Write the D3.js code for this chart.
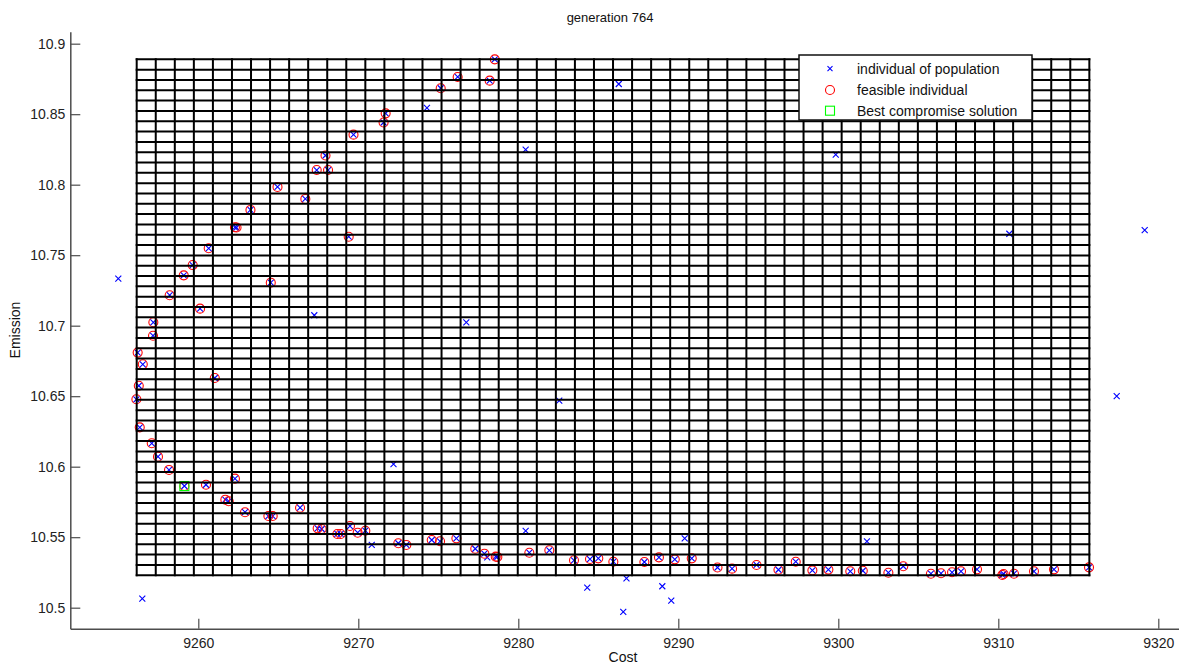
<!DOCTYPE html>
<html>
<head>
<meta charset="utf-8">
<script src="https://cdn.jsdelivr.net/npm/d3@7"></script>
<style>
  html, body { margin: 0; padding: 0; background: #fff; }
  svg { display: block; font-family: "Liberation Sans", Arial, Helvetica, sans-serif; }
</style>
</head>
<body>
<svg id="chart" width="1179" height="666"></svg>
<script>
// ---------- data ----------
const titleText = "generation 764";
const xLabelText = "Cost";
const yLabelText = "Emission";
const legendLabels = ["individual of population", "feasible individual", "Best compromise solution"];

const xTicks = [9260, 9270, 9280, 9290, 9300, 9310, 9320];
const yTicks = [10.5, 10.55, 10.6, 10.65, 10.7, 10.75, 10.8, 10.85, 10.9];
const xDomain = [9252, 9322];
const yDomain = [10.4851, 10.9085];

// hypercube grid
const gridCost = [9256.15, 9315.69];
const gridEmission = [10.523, 10.8889];
const gridCells = 50;

// feasible individuals (also members of the population)
const feasibleCost = [
  9278.53, 9276.21, 9278.21, 9275.15, 9271.71, 9271.58, 9269.70, 9267.95, 9267.40, 9268.11,
  9264.95, 9266.69, 9263.26, 9262.29, 9262.39, 9269.40, 9260.65, 9259.65, 9259.09, 9264.53,
  9258.21, 9260.11, 9257.19, 9257.17, 9256.21, 9256.53, 9261.03, 9256.28, 9256.13, 9256.34,
  9257.09, 9257.48, 9258.17, 9259.13, 9260.48, 9262.29, 9261.69, 9261.90, 9262.92, 9264.38,
  9264.65, 9266.36, 9267.46, 9267.71, 9268.69, 9268.90, 9269.48, 9269.96, 9270.44, 9272.50,
  9273.00, 9274.59, 9275.11, 9276.13, 9277.31, 9277.88, 9278.59, 9278.69, 9280.69, 9281.94,
  9283.48, 9284.48, 9285.00, 9285.94, 9287.88, 9288.79, 9289.78, 9290.84, 9292.45, 9293.36,
  9294.89, 9296.26, 9297.34, 9298.38, 9299.38, 9300.75, 9301.53, 9303.13, 9304.06, 9305.79,
  9306.42, 9307.11, 9307.67, 9308.67, 9310.25, 9310.33, 9310.98, 9312.23, 9313.48, 9315.67
];
const feasibleEmission = [
  10.8889, 10.8764, 10.8738, 10.8684, 10.8506, 10.8441, 10.8355, 10.8207, 10.8104, 10.8104,
  10.7984, 10.7899, 10.7821, 10.7698, 10.7696, 10.7631, 10.7549, 10.7430, 10.7357, 10.7305,
  10.7216, 10.7121, 10.7024, 10.6929, 10.6809, 10.6726, 10.6629, 10.6574, 10.6478, 10.6279,
  10.6166, 10.6071, 10.5977, 10.5863, 10.5872, 10.5915, 10.5766, 10.5755, 10.5677, 10.5650,
  10.5650, 10.5709, 10.5563, 10.5558, 10.5523, 10.5523, 10.5579, 10.5532, 10.5546, 10.5457,
  10.5445, 10.5480, 10.5471, 10.5492, 10.5418, 10.5383, 10.5362, 10.5360, 10.5390, 10.5407,
  10.5336, 10.5345, 10.5350, 10.5326, 10.5324, 10.5357, 10.5343, 10.5350, 10.5285, 10.5277,
  10.5303, 10.5269, 10.5326, 10.5265, 10.5270, 10.5258, 10.5262, 10.5248, 10.5294, 10.5241,
  10.5244, 10.5251, 10.5258, 10.5272, 10.5232, 10.5239, 10.5241, 10.5258, 10.5272, 10.5286
];

// other (infeasible) individuals of the population
const otherCost = [
  9255.00, 9267.25, 9274.29, 9286.28, 9280.46, 9299.84, 9310.69, 9319.15, 9317.40, 9276.75,
  9282.56, 9272.20, 9280.46, 9270.84, 9278.06, 9284.31, 9286.76, 9286.56, 9289.00, 9289.56,
  9290.40, 9301.79, 9256.50
];
const otherEmission = [
  10.7333, 10.7074, 10.8544, 10.8714, 10.8248, 10.8213, 10.7652, 10.7677, 10.6501, 10.7024,
  10.6468, 10.6018, 10.5544, 10.5445, 10.5357, 10.5143, 10.5208, 10.4970, 10.5152, 10.5050,
  10.5492, 10.5471, 10.5064
];

// best compromise solution
const bestCost = [9259.13];
const bestEmission = [10.5863];

// ---------- drawing ----------
const svg = d3.select("#chart");
const plotLeft = 70.3, plotRight = 1190.3, plotTop = 31.7, plotBottom = 628.7;

const x = d3.scaleLinear().domain(xDomain).range([plotLeft, plotRight]);
const y = d3.scaleLinear().domain(yDomain).range([plotBottom, plotTop]);

const fmt = d => String(+d.toFixed(2));

const population = feasibleCost.map((c, i) => [c, feasibleEmission[i]])
  .concat(otherCost.map((c, i) => [c, otherEmission[i]]));
const feasible = feasibleCost.map((c, i) => [c, feasibleEmission[i]]);
const best = bestCost.map((c, i) => [c, bestEmission[i]]);

const xPath = (cx, cy, s) => `M${cx - s},${cy - s}L${cx + s},${cy + s}M${cx - s},${cy + s}L${cx + s},${cy - s}`;

svg.append("g").selectAll("path").data(population).join("path")
  .attr("d", d => xPath(x(d[0]), y(d[1]), 3))
  .attr("stroke", "#0000ff").attr("stroke-width", 1.1).attr("fill", "none");

svg.append("g").selectAll("circle").data(feasible).join("circle")
  .attr("cx", d => x(d[0])).attr("cy", d => y(d[1])).attr("r", 4.5)
  .attr("stroke", "#ff0000").attr("stroke-width", 1.1).attr("fill", "none");

svg.append("g").selectAll("rect").data(best).join("rect")
  .attr("x", d => x(d[0]) - 4.5).attr("y", d => y(d[1]) - 4.5)
  .attr("width", 9).attr("height", 9)
  .attr("stroke", "#00ff00").attr("stroke-width", 1.1).attr("fill", "none");

// grid (hypercubes)
const gx = d3.range(gridCells + 1).map(i => gridCost[0] + (gridCost[1] - gridCost[0]) * i / gridCells);
const gy = d3.range(gridCells + 1).map(i => gridEmission[0] + (gridEmission[1] - gridEmission[0]) * i / gridCells);
const grid = svg.append("g").attr("stroke", "#000").attr("stroke-width", 2);
grid.selectAll("line.v").data(gx).join("line").attr("class", "v")
  .attr("x1", d => x(d)).attr("x2", d => x(d))
  .attr("y1", y(gridEmission[0]) + 1).attr("y2", y(gridEmission[1]) - 1);
grid.selectAll("line.h").data(gy).join("line").attr("class", "h")
  .attr("y1", d => y(d)).attr("y2", d => y(d))
  .attr("x1", x(gridCost[0]) - 1).attr("x2", x(gridCost[1]) + 1);

// axes
const xAxis = d3.axisBottom(x).tickValues(xTicks).tickFormat(fmt).tickSizeInner(-10).tickSizeOuter(0).tickPadding(9);
const yAxis = d3.axisLeft(y).tickValues(yTicks).tickFormat(fmt).tickSizeInner(-10).tickSizeOuter(0).tickPadding(5);

const gX = svg.append("g").attr("transform", `translate(0,${plotBottom})`).call(xAxis);
const gY = svg.append("g").attr("transform", `translate(${plotLeft},0)`).call(yAxis);
[gX, gY].forEach(g => {
  g.select(".domain").attr("stroke", "#4d4d4d").attr("stroke-width", 1.5);
  g.selectAll(".tick line").attr("stroke", "#4d4d4d").attr("stroke-width", 1.2);
  g.selectAll(".tick text").attr("fill", "#222").attr("font-size", 14)
    .attr("font-family", "'Liberation Sans', Arial, Helvetica, sans-serif");
});

// labels
svg.append("text").attr("x", 610).attr("y", 22).attr("text-anchor", "middle")
  .attr("font-size", 13).attr("fill", "#111").text(titleText);
svg.append("text").attr("x", 623).attr("y", 662).attr("text-anchor", "middle")
  .attr("font-size", 14).attr("fill", "#111").text(xLabelText);
svg.append("text").attr("transform", "translate(20,330) rotate(-90)").attr("text-anchor", "middle")
  .attr("font-size", 14).attr("fill", "#111").text(yLabelText);

// legend
const lg = svg.append("g").attr("transform", "translate(799,55)");
lg.append("rect").attr("width", 233).attr("height", 65).attr("fill", "#fff")
  .attr("stroke", "#111").attr("stroke-width", 1.5);
const rowsY = [13.7, 35, 55.7];
lg.append("path").attr("d", xPath(31, rowsY[0], 2.5)).attr("stroke", "#0000ff").attr("stroke-width", 1.1);
lg.append("circle").attr("cx", 31).attr("cy", rowsY[1]).attr("r", 4.5)
  .attr("stroke", "#ff0000").attr("fill", "none").attr("stroke-width", 1.1);
lg.append("rect").attr("x", 26.5).attr("y", rowsY[2] - 4.5).attr("width", 9).attr("height", 9)
  .attr("stroke", "#00ff00").attr("fill", "none").attr("stroke-width", 1.1);
lg.selectAll("text.lbl").data(legendLabels).join("text").attr("class", "lbl")
  .attr("x", 58).attr("y", (d, i) => rowsY[i] + 5).attr("font-size", 14).attr("fill", "#111")
  .text(d => d);
</script>
</body>
</html>
